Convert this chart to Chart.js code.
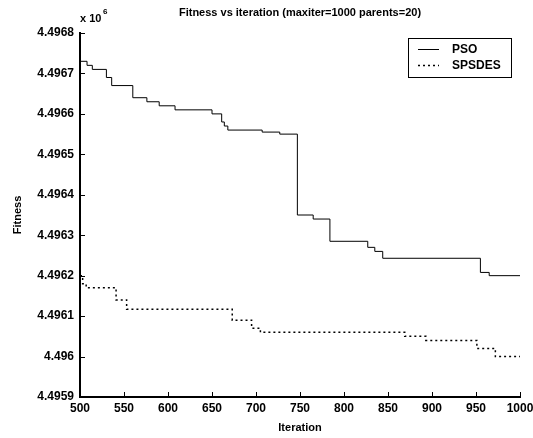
<!DOCTYPE html>
<html>
<head>
<meta charset="utf-8">
<script src="https://cdn.jsdelivr.net/npm/chart.js@4/dist/chart.umd.min.js"></script>
<style>
  html, body { margin: 0; padding: 0; background: #fff; }
  #wrap { width: 533px; height: 438px; }
</style>
</head>
<body>
<div id="wrap"><canvas id="fitnessChart"></canvas></div>
<script>
// values are in units of 10^6
const psoIter   = [500, 508, 514, 530, 536, 560, 576, 590, 608, 650, 661, 664, 668, 707, 727, 747, 765, 784, 827, 835, 844, 955, 965, 1000];
const psoFit    = [4.49673, 4.49672, 4.49671, 4.49669, 4.49667, 4.49664, 4.49663, 4.49662, 4.49661, 4.49660, 4.49658, 4.49657, 4.49656, 4.496555, 4.49655, 4.49635, 4.49634, 4.496285, 4.49627, 4.49626, 4.496243, 4.496208, 4.49620, 4.49620];
const spsdesIter = [500, 503, 507, 541, 553, 673, 695, 705, 869, 893, 951, 972, 1000];
const spsdesFit  = [4.49620, 4.49618, 4.49617, 4.49614, 4.496117, 4.49609, 4.49607, 4.49606, 4.49605, 4.49604, 4.49602, 4.49600, 4.49600];
const xTickMin = 500, xTickMax = 1000, xTickStep = 50;
const yTickMin = 4.4959, yTickMax = 4.4968, yTickStep = 0.0001;

const toPoints = (xs, ys) => xs.map((x, i) => ({ x: x, y: ys[i] }));
const FONT = 'Liberation Sans, Arial, sans-serif';

// matlab style: ticks pointing inward, boxed legend, exponent label
const decorations = {
    id: 'decorations',
    afterDraw(chart) {
        const ctx = chart.ctx;
        const area = chart.chartArea;
        const xs = chart.scales.x, ys = chart.scales.y;
        ctx.save();
        ctx.strokeStyle = '#000';
        ctx.lineWidth = 1;
        ctx.beginPath();
        xs.ticks.forEach(t => {
            const px = Math.round(xs.getPixelForValue(t.value)) + 0.5;
            ctx.moveTo(px, area.bottom);
            ctx.lineTo(px, area.bottom - 5);
        });
        ys.ticks.forEach(t => {
            const py = Math.round(ys.getPixelForValue(t.value)) + 0.5;
            ctx.moveTo(area.left, py);
            ctx.lineTo(area.left + 5, py);
        });
        ctx.stroke();

        // exponent
        ctx.fillStyle = '#000';
        ctx.font = 'bold 11px ' + FONT;
        ctx.textBaseline = 'alphabetic';
        ctx.textAlign = 'left';
        ctx.fillText('x 10', area.left, 22);
        ctx.font = 'bold 8px ' + FONT;
        ctx.fillText('6', area.left + 23, 14);

        // legend box
        const bx = 408, by = 38, bw = 103, bh = 39;
        ctx.fillStyle = '#fff';
        ctx.fillRect(bx, by, bw, bh);
        ctx.lineWidth = 1;
        ctx.strokeRect(bx + 0.5, by + 0.5, bw, bh);
        chart.data.datasets.forEach((ds, i) => {
            const ly = by + 11 + i * 16;
            ctx.beginPath();
            ctx.setLineDash(ds.borderDash || []);
            ctx.lineWidth = ds.borderWidth;
            ctx.moveTo(bx + 10, ly + 0.5);
            ctx.lineTo(bx + 31, ly + 0.5);
            ctx.stroke();
            ctx.setLineDash([]);
            ctx.font = 'bold 12px ' + FONT;
            ctx.textBaseline = 'middle';
            ctx.fillStyle = '#000';
            ctx.fillText(ds.label, bx + 44, ly + 1);
        });
        ctx.restore();
    }
};

const ctx = document.getElementById('fitnessChart');
const chart = new Chart(ctx, {
    type: 'line',
    data: {
        datasets: [{
            label: 'PSO',
            data: toPoints(psoIter, psoFit),
            borderColor: '#000',
            borderWidth: 1,
            stepped: true,
            pointRadius: 0,
            fill: false
        }, {
            label: 'SPSDES',
            data: toPoints(spsdesIter, spsdesFit),
            borderColor: '#000',
            borderWidth: 1.5,
            borderDash: [2, 3],
            stepped: true,
            pointRadius: 0,
            fill: false
        }]
    },
    options: {
        responsive: true,
        maintainAspectRatio: false,
        animation: false,
        layout: { padding: { top: 33, right: 13, left: 0, bottom: 0 } },
        plugins: {
            legend: { display: false },
            tooltip: { enabled: false },
            title: { display: false }
        },
        scales: {
            x: {
                type: 'linear',
                min: xTickMin,
                max: xTickMax,
                ticks: {
                    stepSize: xTickStep,
                    color: '#000',
                    font: { family: FONT, size: 12, weight: 'bold' },
                    padding: 4,
                    maxRotation: 0,
                    callback: v => String(v)
                },
                grid: { drawOnChartArea: false, drawTicks: false },
                border: { display: true, color: '#000', width: 2 },
                title: {
                    display: true,
                    text: 'Iteration',
                    color: '#000',
                    font: { family: FONT, size: 11, weight: 'bold' },
                    padding: { top: 0, bottom: 3 }
                },
                afterFit(scale) {
                    scale.height = 41;
                    scale.paddingLeft = 0;
                    scale.paddingRight = 0;
                }
            },
            y: {
                type: 'linear',
                min: yTickMin,
                max: yTickMax,
                ticks: {
                    stepSize: yTickStep,
                    color: '#000',
                    font: { family: FONT, size: 12, weight: 'bold' },
                    padding: 6,
                    callback: v => String(parseFloat(v.toFixed(4)))
                },
                grid: { drawOnChartArea: false, drawTicks: false },
                border: { display: true, color: '#000', width: 2 },
                title: {
                    display: true,
                    text: 'Fitness',
                    color: '#000',
                    font: { family: FONT, size: 11, weight: 'bold' },
                    padding: { top: 11, bottom: 0 }
                },
                afterFit(scale) { scale.width = 80; }
            }
        }
    },
    plugins: [decorations, {
        id: 'topTitle',
        afterDraw(chart) {
            const c = chart.ctx, a = chart.chartArea;
            c.save();
            c.fillStyle = '#000';
            c.font = 'bold 11px ' + FONT;
            c.textAlign = 'center';
            c.textBaseline = 'middle';
            c.fillText('Fitness vs iteration (maxiter=1000 parents=20)', (a.left + a.right) / 2, 13);
            c.restore();
        }
    }]
});
</script>
</body>
</html>
